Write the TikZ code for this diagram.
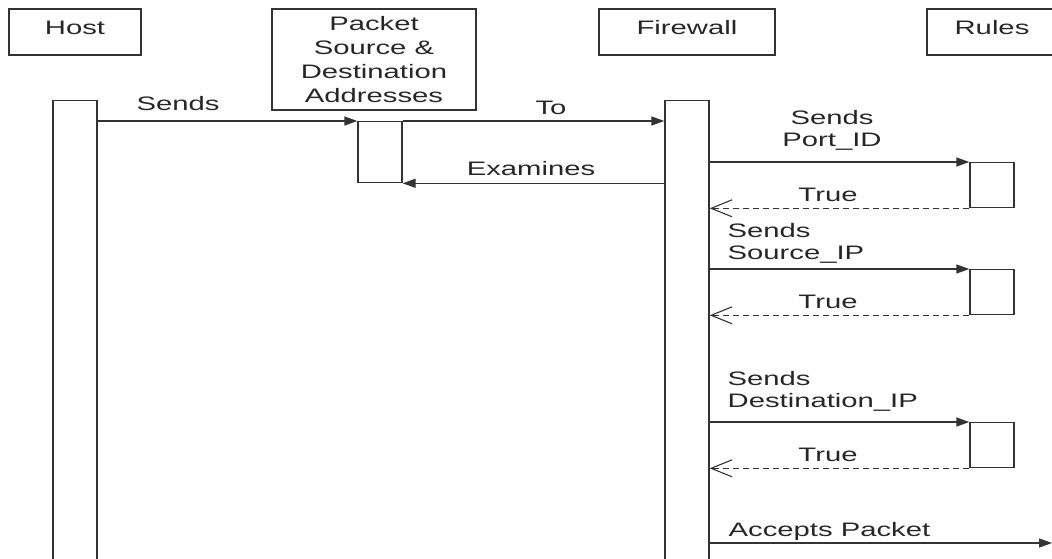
\documentclass[tikz,border=0pt]{standalone}
\usepackage{fontspec}
\setmainfont[FakeStretch=1.5]{Liberation Sans}
\usetikzlibrary{arrows.meta}

\begin{document}
\begin{tikzpicture}[
    x=1pt, y=-1pt,
    font=\fontsize{19.5}{22}\selectfont,
    line width=1.3pt,
    head/.style  ={draw=black!80, minimum height=46pt, inner sep=0pt, text=black!85},
    onehead/.style={head, text height=14pt, text depth=10pt},
    bar/.style   ={draw=black!80, fill=white, minimum width=44pt, anchor=north, inner sep=0pt},
    lbl/.style   ={inner sep=0pt, text=black!85},
    call/.style  ={-{Triangle[length=13pt, width=9pt]}, draw=black!80},
    reply/.style ={-{Straight Barb[length=21pt, width=17pt, line width=1.1pt]}, draw=black!80,
                   dash pattern=on 6pt off 4pt}
]
\useasboundingbox (0,0) rectangle (1052,558);

% --- Lifeline heads across the top. ---
\node[onehead, minimum width=132pt] (host)  at (75,32)  {Host};
\node[head, minimum width=204pt, minimum height=101pt, align=center,
      font=\fontsize{19.5}{24}\selectfont] (pkt) at (374,59.5)
  {Packet\\Source \&\\Destination\\Addresses};
\node[onehead, minimum width=176pt] (fw)    at (687,32) {Firewall};
\node[onehead, minimum width=130pt] (rules) at (992,32) {Rules};

% --- Activation bars (host and firewall run off the bottom). ---
\node[bar, minimum height=470pt] (hostbar) at (75,100)  {};
\node[bar, minimum height=61pt]  (pktbar)  at (380,121) {};
\node[bar, minimum height=470pt] (fwbar)   at (687,100) {};
\node[bar, minimum height=45pt]  (rule1)   at (992,162) {};
\node[bar, minimum height=45pt]  (rule2)   at (992,269) {};
\node[bar, minimum height=45pt]  (rule3)   at (992,422) {};

% --- Host -> packet -> firewall, and back. ---
\draw[call] (pktbar.north west -| hostbar.east) -- (pktbar.north west);
\draw[call] (pktbar.north east) -- (pktbar.north east -| fwbar.west);
\draw[call] (pktbar.south east -| fwbar.west) -- (pktbar.south east);

% --- Firewall checks each field against the rules. ---
\draw[call]  (rule1.north west -| fwbar.east) -- (rule1.north west);
\draw[reply] (rule1.south west) -- (rule1.south west -| fwbar.east);
\draw[call]  (rule2.north west -| fwbar.east) -- (rule2.north west);
\draw[reply] (rule2.south west) -- (rule2.south west -| fwbar.east);
\draw[call]  (rule3.north west -| fwbar.east) -- (rule3.north west);
\draw[reply] (rule3.south west) -- (rule3.south west -| fwbar.east);

% --- Accepted packet leaves on the right edge. ---
\coordinate (exit) at (1052,543);
\draw[call] (exit -| fwbar.east) -- (exit);

% --- Message labels. ---
\node[lbl] (sendsl) at (178,104) {Sends};
\node[lbl] (tol)    at (551,108) {To};
\node[lbl] (examl)  at (531,169) {Examines};
\node[lbl, align=center] (portl) at (832,130) {Sends\\Port\_ID};
\node[lbl] (true1)  at (828,195) {True};
\node[lbl, align=left, anchor=west] (srcl) at (727,243) {Sends\\Source\_IP};
\node[lbl] (true2)  at (828,302) {True};
\node[lbl, align=left, anchor=west] (dstl) at (727,391) {Sends\\Destination\_IP};
\node[lbl] (true3)  at (828,455) {True};
\node[lbl, anchor=west] (acceptl) at (728,531) {Accepts Packet};

\end{tikzpicture}
\end{document}
